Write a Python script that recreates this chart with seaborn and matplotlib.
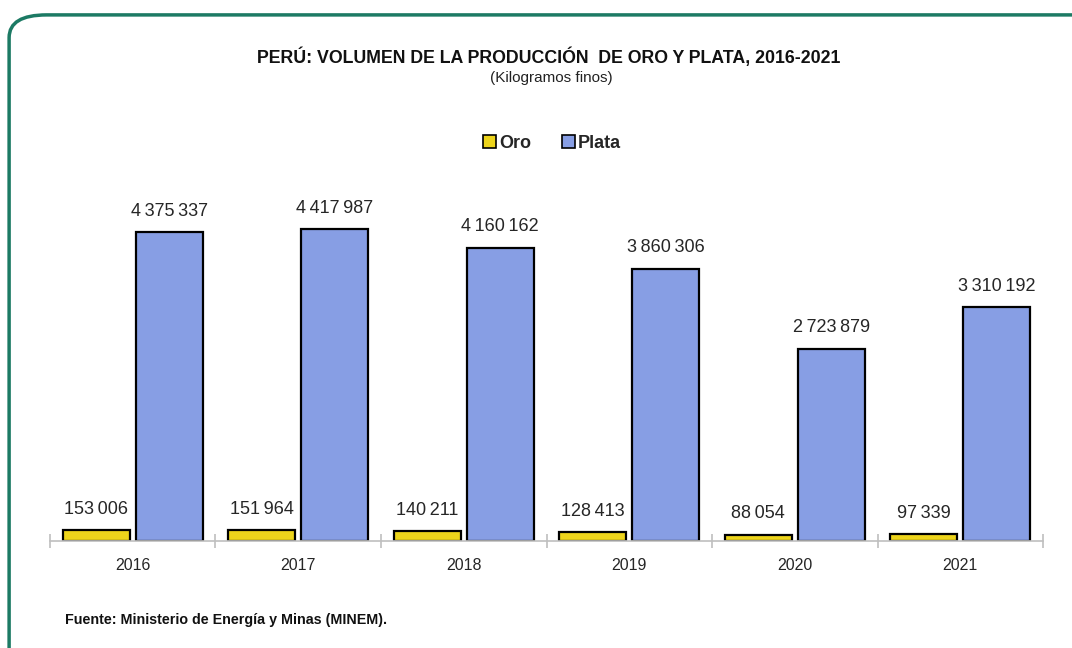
import matplotlib.pyplot as plt
import seaborn as sns
import pandas as pd
from matplotlib.patches import FancyBboxPatch, Patch

years = ['2016', '2017', '2018', '2019', '2020', '2021']
oro = [153006, 151964, 140211, 128413, 88054, 97339]
plata = [4375337, 4417987, 4160162, 3860306, 2723879, 3310192]
metals = ['Oro', 'Plata']
colors = {'Oro': '#EDD41B', 'Plata': '#879EE4'}

df = pd.DataFrame({
    'year': years * 2,
    'metal': ['Oro'] * len(years) + ['Plata'] * len(years),
    'value': oro + plata,
})

sns.set_style('white')
plt.rcParams['font.family'] = ['Liberation Sans', 'DejaVu Sans']

fig = plt.figure(figsize=(10.72, 6.48), dpi=100)
ax = fig.add_axes([0.0466, 0.165, 0.9264, 0.526])

sns.barplot(data=df, x='year', y='value', hue='metal', hue_order=metals,
            palette=colors, saturation=1, edgecolor='black', linewidth=1.6,
            width=0.882, gap=0.08, legend=False, ax=ax)

def fmt(v):
    return f'{int(round(v)):,}'.replace(',', '\u2009')

for cont in ax.containers:
    ax.bar_label(cont, labels=[fmt(b.get_height()) for b in cont],
                 padding=9, fontsize=13, color='#262626')

ax.set_xlim(-0.5, len(years) - 0.5)
ax.set_ylim(0, 4.83e6)
ax.set_xlabel('')
ax.set_ylabel('')
ax.set_yticks([])
for s in ['top', 'right', 'left']:
    ax.spines[s].set_visible(False)
ax.spines['bottom'].set_color('#BFBFBF')
ax.spines['bottom'].set_linewidth(1.2)
ax.set_xticks([i - 0.5 for i in range(len(years) + 1)], minor=True)
ax.tick_params(axis='x', which='minor', bottom=True, length=10, width=1.2,
               color='#BFBFBF', direction='inout')
ax.tick_params(axis='x', which='major', bottom=False, length=0, pad=12,
               labelsize=11.5, labelcolor='#262626')

fig.text(0.512, 0.912, 'PERÚ: VOLUMEN DE LA PRODUCCIÓN  DE ORO Y PLATA, 2016-2021',
         ha='center', va='center', fontsize=12.8, fontweight='bold', color='#111111')
fig.text(0.514, 0.879, '(Kilogramos finos)', ha='center', va='center', fontsize=11, color='#222222')

handles = [Patch(facecolor=colors[m], edgecolor='black', linewidth=1.2) for m in metals]
fig.legend(handles, metals, loc='center', bbox_to_anchor=(0.515, 0.779), ncol=2, frameon=False,
           prop={'weight': 'bold', 'size': 13}, handlelength=0.7, handleheight=0.7,
           handletextpad=0.2, columnspacing=1.7)

fig.text(0.061, 0.043, 'Fuente: Ministerio de Energía y Minas (MINEM).', ha='left', va='center',
         fontsize=10.3, fontweight='bold', color='#111111')

frame = FancyBboxPatch((0.0085, -0.1), 1.05, 1.077, transform=fig.transFigure,
                       boxstyle='round,pad=0,rounding_size=0.035', facecolor='none',
                       edgecolor='#1C7A64', linewidth=2.5, clip_on=False)
fig.patches.append(frame)

fig.savefig('out.png', dpi=100)
